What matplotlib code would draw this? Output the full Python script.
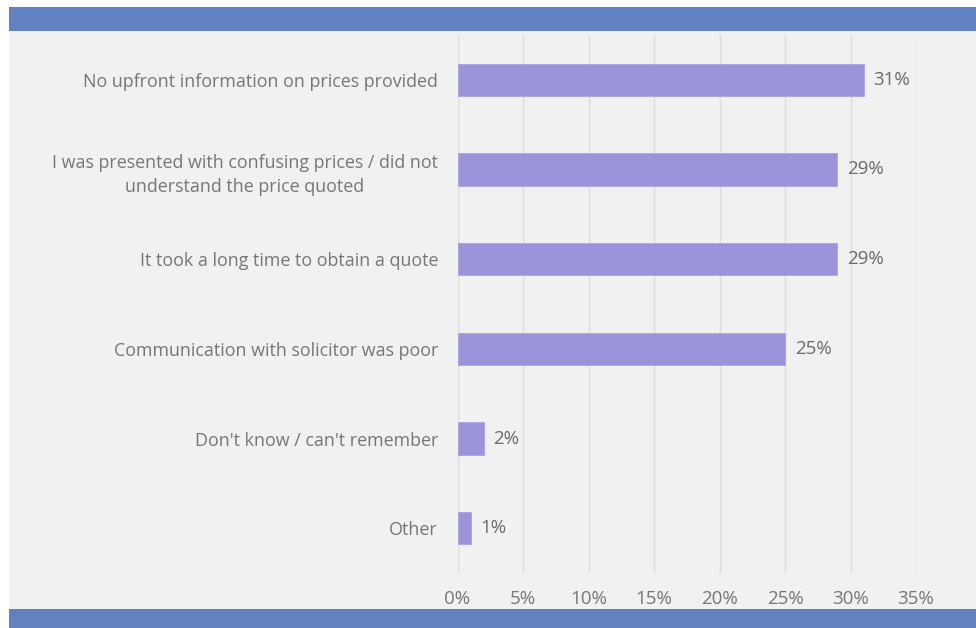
import matplotlib.pyplot as plt
from matplotlib.patches import Rectangle

categories = [
    "No upfront information on prices provided",
    "I was presented with confusing prices / did not\nunderstand the price quoted",
    "It took a long time to obtain a quote",
    "Communication with solicitor was poor",
    "Don't know / can't remember",
    "Other",
]
values = [31, 29, 29, 25, 2, 1]
xticks = [0, 5, 10, 15, 20, 25, 30, 35]
xtick_labels = [f"{t}%" for t in xticks]

W, H = 976, 628
plt.rcParams['font.family'] = ['Open Sans', 'DejaVu Sans']
text_color = '#767676'

fig = plt.figure(figsize=(W / 100, H / 100), dpi=100)
fig.patch.set_facecolor('white')


def px_rect(x0, y0, x1, y1, color, z):
    fig.patches.append(Rectangle((x0 / W, 1 - y1 / H), (x1 - x0) / W, (y1 - y0) / H,
                                 transform=fig.transFigure, facecolor=color,
                                 edgecolor='none', zorder=z))


# panel background and header/footer bands
px_rect(9, 7, W, H, '#f1f1f1', -3)
px_rect(9, 7, W, 31, '#6281c0', -2)
px_rect(9, 609, W, H, '#6281c0', -2)

left, right, top, bottom = 457.5, 916, 35, 573
ax = fig.add_axes([left / W, 1 - bottom / H, (right - left) / W, (bottom - top) / H])
ax.set_facecolor('none')
ax.set_zorder(5)

y = list(range(len(categories)))
ax.barh(y, values, height=0.36, color='#9b94da', edgecolor='#a9a3e0', linewidth=0.6, zorder=3)
for yi, v in zip(y, values):
    ax.annotate(f"{v}%", (v, yi), xytext=(7, 0), textcoords='offset points',
                va='center', ha='left', fontsize=13.5, color='#6a6a6a')

ax.set_xlim(0, 35)
ax.set_ylim(len(categories) - 0.5, -0.5)
ax.set_xticks(xticks)
ax.set_xticklabels(xtick_labels)
ax.set_yticks(y)
ax.set_yticklabels(categories, ha='right', multialignment='center', linespacing=1.45)
ax.tick_params(axis='x', length=0, pad=12, labelsize=13.5, labelcolor=text_color)
ax.tick_params(axis='y', length=0, pad=14, labelsize=12.9, labelcolor=text_color)
ax.grid(axis='x', color='#dcdcdc', linewidth=1, zorder=0)
ax.set_axisbelow(True)
for s in ax.spines.values():
    s.set_visible(False)

fig.savefig('out.png', dpi=100, facecolor=fig.get_facecolor())
